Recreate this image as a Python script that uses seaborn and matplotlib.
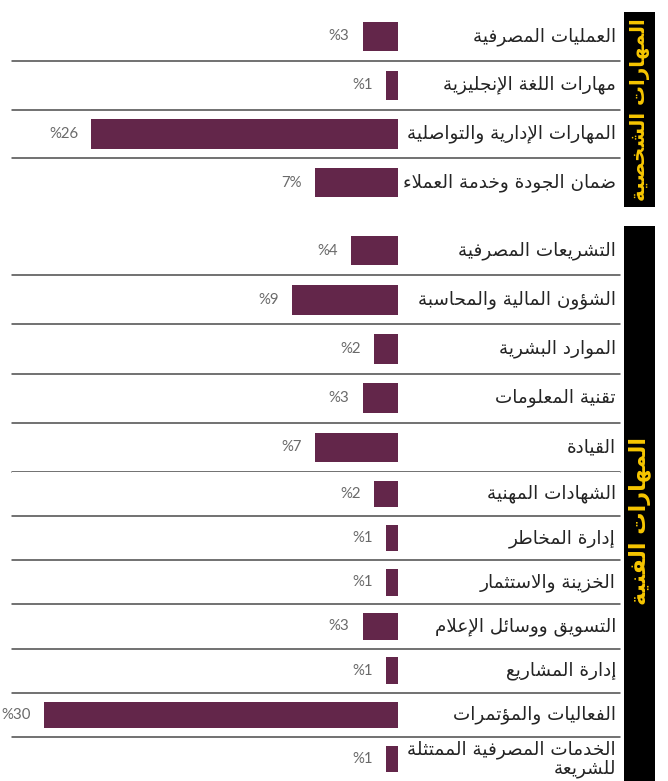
import matplotlib
matplotlib.use("Agg")
import matplotlib.pyplot as plt
import matplotlib.transforms as mtransforms
from matplotlib.patches import Rectangle
import pandas as pd
import seaborn as sns

# ---- data -------------------------------------------------------------
personal_skills = [
    "العمليات المصرفية",
    "مهارات اللغة الإنجليزية",
    "المهارات الإدارية والتواصلية",
    "ضمان الجودة وخدمة العملاء",
]
personal_pct = [3, 1, 26, 7]
personal_fmt = ["%{}", "%{}", "%{}", "{}%"]

technical_skills = [
    "التشريعات المصرفية",
    "الشؤون المالية والمحاسبة",
    "الموارد البشرية",
    "تقنية المعلومات",
    "القيادة",
    "الشهادات المهنية",
    "إدارة المخاطر",
    "الخزينة والاستثمار",
    "التسويق ووسائل الإعلام",
    "إدارة المشاريع",
    "الفعاليات والمؤتمرات",
    "الخدمات المصرفية الممتثلة\nللشريعة",
]
technical_pct = [4, 9, 2, 3, 7, 2, 1, 1, 3, 1, 30, 1]
technical_fmt = ["%{}"] * len(technical_pct)

group_titles = ["المهارات الشخصية", "المهارات الفنية"]

# ---- minimal Arabic shaping (matplotlib has no complex text layout) ----
_DUAL = {'ئ': 0xFE89, 'ب': 0xFE8F, 'ت': 0xFE95, 'ث': 0xFE99, 'ج': 0xFE9D,
         'ح': 0xFEA1, 'خ': 0xFEA5, 'س': 0xFEB1, 'ش': 0xFEB5, 'ص': 0xFEB9,
         'ض': 0xFEBD, 'ط': 0xFEC1, 'ظ': 0xFEC5, 'ع': 0xFEC9, 'غ': 0xFECD,
         'ف': 0xFED1, 'ق': 0xFED5, 'ك': 0xFED9, 'ل': 0xFEDD, 'م': 0xFEE1,
         'ن': 0xFEE5, 'ه': 0xFEE9, 'ي': 0xFEF1}
_RIGHT = {'آ': 0xFE81, 'أ': 0xFE83, 'ؤ': 0xFE85, 'إ': 0xFE87, 'ا': 0xFE8D,
          'ة': 0xFE93, 'د': 0xFEA9, 'ذ': 0xFEAB, 'ر': 0xFEAD, 'ز': 0xFEAF,
          'و': 0xFEED, 'ى': 0xFEEF}
_LAMALEF = {'آ': 0xFEF5, 'أ': 0xFEF7, 'إ': 0xFEF9, 'ا': 0xFEFB}
_NONJOIN = {'ء': 0xFE80}


def _shape_line(s):
    toks = []
    i = 0
    while i < len(s):
        c = s[i]
        if c == 'ل' and i + 1 < len(s) and s[i + 1] in _LAMALEF:
            toks.append(('R', _LAMALEF[s[i + 1]]))
            i += 2
            continue
        if c in _DUAL:
            toks.append(('D', _DUAL[c]))
        elif c in _RIGHT:
            toks.append(('R', _RIGHT[c]))
        elif c in _NONJOIN:
            toks.append(('N', _NONJOIN[c]))
        else:
            toks.append(('X', c))
        i += 1
    out = []
    for k, (kind, base) in enumerate(toks):
        if kind == 'X':
            out.append(base)
            continue
        if kind == 'N':
            out.append(chr(base))
            continue
        prev_dual = k > 0 and toks[k - 1][0] == 'D'
        next_join = k + 1 < len(toks) and toks[k + 1][0] in ('D', 'R')
        if kind == 'R':
            out.append(chr(base + (1 if prev_dual else 0)))
        else:
            if prev_dual and next_join:
                off = 3
            elif prev_dual:
                off = 1
            elif next_join:
                off = 2
            else:
                off = 0
            out.append(chr(base + off))
    return ''.join(reversed(out))


def ar(s):
    return '\n'.join(_shape_line(line) for line in s.split('\n'))


# ---- figure -----------------------------------------------------------
W, H = 668, 781
sns.set_style("white")
plt.rcParams['font.family'] = ['DejaVu Sans']
fig = plt.figure(figsize=(W / 100, H / 100), dpi=100)

BAR = "#63264a"
LABEL_C = "#242424"
VALUE_C = "#6a6a6a"
RULE_C = "#4a4a4a"
YELLOW = "#f7c600"

ax_left, ax_right = 12, 620   # pixel extent of the row rules
zero_px = 398                 # where the bars start
px_per_pct = 11.8


def fig_box(x0, y0, x1, y1):
    return [x0 / W, 1 - y1 / H, (x1 - x0) / W, (y1 - y0) / H]


def draw_group(ax, cats, vals, fmts, rule_below=False):
    df = pd.DataFrame({"skill": cats, "pct": vals})
    sns.barplot(data=df, y="skill", x="pct", orient="h", color=BAR,
                saturation=1, width=0.6, ax=ax, linewidth=0)
    left_lim = (zero_px - ax_left) / px_per_pct
    right_lim = -(ax_right - zero_px) / px_per_pct
    ax.set_xlim(left_lim, right_lim)
    n = len(cats)
    ax.set_ylim(n - 0.5, -0.5)
    n_rules = n if rule_below else n - 1
    for i in range(n_rules):
        ax.axhline(i + 0.5, color=RULE_C, lw=1.1, clip_on=False)
    trans = mtransforms.blended_transform_factory(ax.transAxes, ax.transData)
    for i, (c, v, f) in enumerate(zip(cats, vals, fmts)):
        ax.text(0.9934, i, ar(c), transform=trans, ha="right", va="center",
                multialignment="right", fontsize=13.2, color=LABEL_C,
                linespacing=1.0)
        ax.annotate(f.format(v), xy=(v, i), xytext=(-9.5, 0),
                    textcoords="offset points", ha="right", va="center",
                    fontsize=10.8, color=VALUE_C, family="Lato")
    ax.set_xlabel("")
    ax.set_ylabel("")
    ax.set_xticks([])
    ax.set_yticks([])
    sns.despine(ax=ax, left=True, bottom=True)


ax1 = fig.add_axes(fig_box(ax_left, 12, ax_right, 207))
draw_group(ax1, personal_skills, personal_pct, personal_fmt)

# technical block: the upper five rows are set a little taller than the rest
split = 5
ax2a = fig.add_axes(fig_box(ax_left, 226, ax_right, 472))
draw_group(ax2a, technical_skills[:split], technical_pct[:split],
           technical_fmt[:split], rule_below=True)
ax2b = fig.add_axes(fig_box(ax_left, 472, ax_right, 781))
draw_group(ax2b, technical_skills[split:], technical_pct[split:],
           technical_fmt[split:])

# side banners with the group titles
banners = [((624, 12, 655, 207), group_titles[0], 110, 14.3),
           ((624, 226, 655, 800), group_titles[1], 521, 16.0)]
for (x0, y0, x1, y1), title, yc, fs in banners:
    fig.add_artist(Rectangle((x0 / W, 1 - y1 / H), (x1 - x0) / W, (y1 - y0) / H,
                             transform=fig.transFigure, color="black", lw=0))
    fig.text((x0 + x1) / 2 / W, 1 - yc / H, ar(title), rotation=90,
             ha="center", va="center", color=YELLOW, fontsize=fs,
             fontweight="bold")

fig.savefig("out.png", dpi=100)
